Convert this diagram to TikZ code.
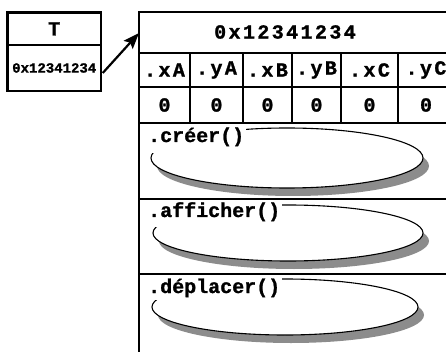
\documentclass[tikz,border=0pt]{standalone}
\usepackage{fontspec}
\usetikzlibrary{arrows.meta,calc}
\newfontfamily\cmono[BoldFeatures={FakeBold=1.2}]{Liberation Mono}
\newfontfamily\cmonosp[LetterSpace=12,BoldFeatures={FakeBold=1.2}]{Liberation Mono}
\begin{document}
\begin{tikzpicture}[x=1pt,y=-1pt,
  frame/.style={line width=2.5pt},
  inner/.style={line width=2pt},
  cellbox/.style={draw,line width=2.5pt,minimum width=93.5pt,inner sep=0pt,font=\cmono\bfseries},
  fieldtxt/.style={font=\cmonosp\bfseries\fontsize{20}{24}\selectfont,inner sep=0pt},
  valtxt/.style={font=\cmono\bfseries\fontsize{20}{24}\selectfont,inner sep=0pt},
  methtxt/.style={font=\cmono\bfseries\fontsize{20}{24}\selectfont,anchor=base west,fill=white,inner xsep=2pt,inner ysep=1pt,text height=14pt},
  shade/.style={fill=black!45},
  oval/.style={draw=black,fill=white,line width=1.1pt},
  ptrarrow/.style={line width=2.2pt,-{Stealth[length=16pt,width=12pt,inset=3pt]}}
]
\fill[white] (0,0) rectangle (446,352);
\useasboundingbox (0,0) rectangle (446,352);

% left variable box
\node[cellbox,minimum height=32.3pt,font=\cmono\bfseries\fontsize{20}{24}\selectfont] (tname) at (54.25,28.85) {T};
\node[cellbox,minimum height=46pt,font=\cmono\bfseries\fontsize{14}{16}\selectfont] (ptr) at (54.25,68) {0x12341234};

% right object box frame
\draw[frame] (452,12) -- (139,12) -- (139,356);
\draw[inner] (139,53) -- (452,53);
\draw[inner] (139,87) -- (452,87);
\draw[inner] (139,123) -- (452,123);
\draw[inner] (139,199) -- (452,199);
\draw[inner] (139,274) -- (452,274);
\foreach \cx in {190,243,292,341,398} {\draw[inner] (\cx,53) -- (\cx,123);}

\coordinate (tgt) at (139,33);
\draw[ptrarrow] ($(ptr.east)+(0.5,5)$) -- (tgt);

% header
\node[fieldtxt] (addr) at (285,32) {0x12341234};

% fields
\node[fieldtxt] (fxA) at (164.5,70) {.xA};
\node[fieldtxt] (fyA) at (216.5,70) {.yA};
\node[fieldtxt] (fxB) at (267.5,70) {.xB};
\node[fieldtxt] (fyB) at (316.5,70) {.yB};
\node[fieldtxt] (fxC) at (369.5,70) {.xC};
\node[fieldtxt] (fyC) at (426,70) {.yC};

% values
\node[valtxt] (vxA) at (164.5,105) {0};
\node[valtxt] (vyA) at (216.5,105) {0};
\node[valtxt] (vxB) at (267.5,105) {0};
\node[valtxt] (vyB) at (316.5,105) {0};
\node[valtxt] (vxC) at (369.5,105) {0};
\node[valtxt] (vyC) at (426,105) {0};

% methods: shadows and ovals
\fill[shade] (293,166) ellipse [x radius=136, y radius=30];
\draw[oval] (287,158) ellipse [x radius=136, y radius=30];
\fill[shade] (294,241) ellipse [x radius=135, y radius=28];
\draw[oval] (288,233) ellipse [x radius=135, y radius=28];
\fill[shade] (291,315) ellipse [x radius=133, y radius=28];
\draw[oval] (285,307) ellipse [x radius=133, y radius=28];

\node[methtxt,text depth=10pt] (mcreer) at (146,142) {.créer()\hspace{11pt}};
\node[methtxt,text depth=9pt] (mafficher) at (146,217) {.afficher()\hspace{3pt}};
\node[methtxt,text depth=6pt] (mdeplacer) at (146,293) {.déplacer()\hspace{1pt}};
\end{tikzpicture}
\end{document}
